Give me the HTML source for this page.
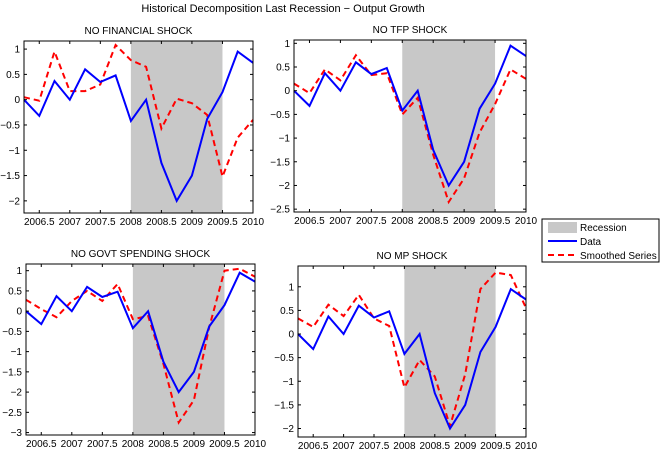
<!DOCTYPE html>
<html><head><meta charset="utf-8"><style>
html,body{margin:0;padding:0;background:#fff;}
svg{display:block;font-family:"Liberation Sans",sans-serif;}
</style></head><body>
<svg id="fig" width="662" height="453" viewBox="0 0 662 453">
<text x="283" y="12" font-size="11" text-anchor="middle" fill="#000">Historical Decomposition Last Recession − Output Growth</text>
<g>
<rect x="542" y="219" width="117" height="43" fill="#fff" stroke="#000" stroke-width="1"/>
<rect x="548" y="222" width="29" height="11" fill="#c8c8c8"/>
<text x="580" y="231" font-size="10">Recession</text>
<line x1="548" y1="241" x2="577" y2="241" stroke="#0000ff" stroke-width="2"/>
<text x="580" y="245" font-size="10">Data</text>
<line x1="548" y1="255" x2="577" y2="255" stroke="#ff0000" stroke-width="2" stroke-dasharray="6,4"/>
<text x="580" y="259" font-size="10">Smoothed Series</text>
</g>
</svg>
<script>
const quarters = [2006.25,2006.5,2006.75,2007,2007.25,2007.5,2007.75,2008,2008.25,2008.5,2008.75,2009,2009.25,2009.5,2009.75,2010];
const dataSeries = [0,-0.32,0.37,0,0.6,0.35,0.48,-0.42,0,-1.25,-2,-1.5,-0.38,0.15,0.95,0.73];
const smoothFinancial = [0.05,-0.02,0.95,0.17,0.17,0.3,1.08,0.78,0.65,-0.57,0.02,-0.07,-0.3,-1.52,-0.75,-0.4];
const smoothTFP = [0.15,-0.05,0.45,0.22,0.75,0.33,0.37,-0.5,-0.15,-1.35,-2.35,-1.85,-0.88,-0.28,0.45,0.25];
const smoothGovt = [0.28,0.05,-0.15,0.25,0.5,0.25,0.67,-0.2,-0.12,-1.3,-2.75,-2.2,-0.4,1.0,1.05,0.85];
const smoothMP = [0.33,0.15,0.62,0.38,0.83,0.33,0.17,-1.13,-0.55,-0.9,-1.95,-0.85,0.95,1.3,1.25,0.55];
const recession = [2008, 2009.5];
const xTicks = [2006.5,2007,2007.5,2008,2008.5,2009,2009.5,2010];
const xTickLabels = ["2006.5","2007","2007.5","2008","2008.5","2009","2009.5","2010"];
const panelTitles = ["NO FINANCIAL SHOCK","NO TFP SHOCK","NO GOVT SPENDING SHOCK","NO MP SHOCK"];
const yTicks1 = [1,0.5,0,-0.5,-1,-1.5,-2];
const yTicks2 = [1,0.5,0,-0.5,-1,-1.5,-2,-2.5];
const yTicks3 = [1,0.5,0,-0.5,-1,-1.5,-2,-2.5,-3];
const yTicks4 = [1,0.5,0,-0.5,-1,-1.5,-2];

const NS="http://www.w3.org/2000/svg";
const svg=document.getElementById('fig');
function mk(tag,attrs,parent){const e=document.createElementNS(NS,tag);for(const k in attrs)e.setAttribute(k,attrs[k]);(parent||svg).appendChild(e);return e;}

const panels=[
 {L:24,R:253,T:41,B:213,ymin:-2.24,ymax:1.16,ticks:yTicks1,smooth:smoothFinancial,key:'financial'},
 {L:294,R:526,T:40,B:212,ymin:-2.56,ymax:1.07,ticks:yTicks2,smooth:smoothTFP,key:'tfp'},
 {L:26,R:255,T:264,B:435,ymin:-3.06,ymax:1.165,ticks:yTicks3,smooth:smoothGovt,key:'govt'},
 {L:298,R:526,T:266,B:437,ymin:-2.18,ymax:1.44,ticks:yTicks4,smooth:smoothMP,key:'mp'}
];
panels.forEach((p,i)=>{
 const g=mk('g',{});
 
 
 const xs=v=>p.L+(v-2006.25)/(2010-2006.25)*(p.R-p.L);
 const ys=v=>p.T+(p.ymax-v)/(p.ymax-p.ymin)*(p.B-p.T);
 const rec=mk('rect',{x:xs(recession[0]),y:p.T,width:xs(recession[1])-xs(recession[0]),height:p.B-p.T,fill:'#c8c8c8'},g);
 
 
 const mkPath=arr=>arr.map((v,k)=>(k?'L':'M')+xs(quarters[k]).toFixed(1)+','+ys(v).toFixed(1)).join('');
 const sm=mk('path',{d:mkPath(p.smooth),fill:'none',stroke:'#ff0000','stroke-width':2,'stroke-dasharray':'6,4'},g);
 
 
 const dl=mk('path',{d:mkPath(dataSeries),fill:'none',stroke:'#0000ff','stroke-width':2},g);
 
 
 const fr=mk('rect',{x:p.L,y:p.T,width:p.R-p.L,height:p.B-p.T,fill:'none',stroke:'#000','stroke-width':1},g);
 
 
 p.ticks.forEach(t=>{
  const y=ys(t);
  mk('line',{x1:p.L,y1:y,x2:p.L+3,y2:y,stroke:'#000'},g);
  mk('line',{x1:p.R,y1:y,x2:p.R-3,y2:y,stroke:'#000'},g);
  const tx=mk('text',{x:p.L-4,y:y+3.5,'font-size':10,'text-anchor':'end'},g);
  tx.textContent=String(t).replace('-','−');
  
  
 });
 xTicks.forEach((t,k)=>{
  const x=xs(t);
  mk('line',{x1:x,y1:p.B,x2:x,y2:p.B-3,stroke:'#000'},g);
  mk('line',{x1:x,y1:p.T,x2:x,y2:p.T+3,stroke:'#000'},g);
  const tx=mk('text',{x:x,y:p.B+12,'font-size':10,'text-anchor':'middle'},g);
  tx.textContent=xTickLabels[k];
  
  
 });
 const ti=mk('text',{x:(p.L+p.R)/2,y:p.T-7,'font-size':10,'text-anchor':'middle'},g);
 ti.textContent=panelTitles[i];
 
 
});
</script>
</body></html>
